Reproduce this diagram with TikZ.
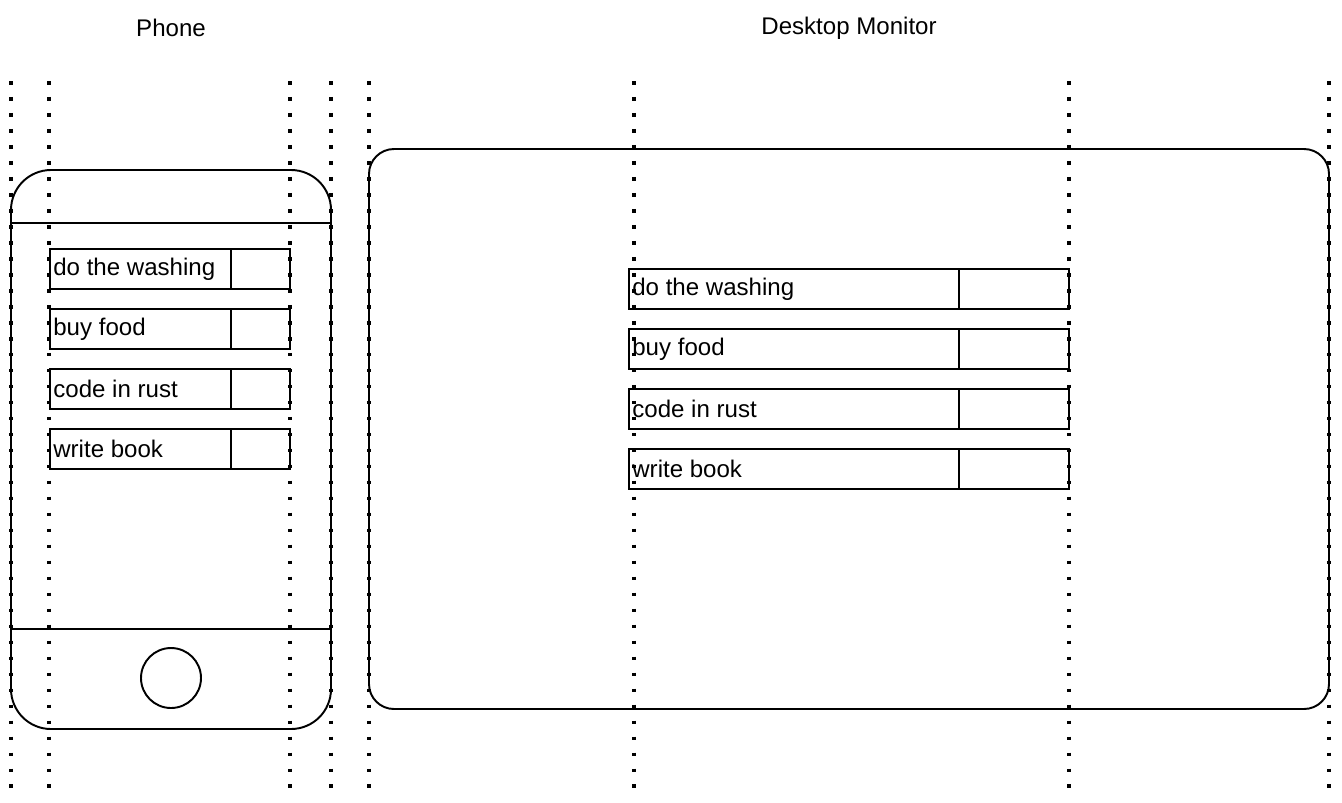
\documentclass[tikz,border=0pt]{standalone}
\usepackage{fontspec}
\setmainfont{Liberation Sans}
\usetikzlibrary{positioning}

\begin{document}
\begin{tikzpicture}[x=0.02cm,y=-0.02cm,
    outline/.style={line width=1.1pt},
    guide/.style={line width=2.1pt,dash pattern=on 2.1pt off 7pt},
    itembox/.style={draw,line width=1.1pt,rectangle,anchor=north west,
                    inner sep=0pt,outer sep=0pt,minimum height=0.8cm},
    itemtext/.style={anchor=west,inner sep=0.06cm,font=\fontsize{13.7}{16}\selectfont},
    title/.style={font=\fontsize{13.7}{16}\selectfont}]
  \useasboundingbox (0,0) rectangle (1342,802);
  % titles
  \node[title] (phone) at (171,28) {Phone};
  \node[title] (desktop) at (849,28) {Desktop Monitor};
  % phone body
  \draw[outline,rounded corners=0.8cm] (11,170) rectangle (331,729);
  \draw[outline] (11,223) -- (331,223);
  \draw[outline] (11,629) -- (331,629);
  \draw[outline] (171,678) circle (0.6cm);
  % monitor body
  \draw[outline,rounded corners=0.5cm] (369,149) rectangle (1329,709);
  % todo items
  \foreach \txt [count=\i] in {do the washing,buy food,code in rust,write book}{
    \node[itembox,minimum width=3.62cm] (ph\i) at (50,{249+60*(\i-1)}) {};
    \node[itembox,minimum width=1.18cm,right=0pt of ph\i] (phc\i) {};
    \node[itemtext] (pht\i) at (ph\i.west) {\txt};
    \node[itembox,minimum width=6.6cm] (dk\i) at (629,{269+60*(\i-1)}) {};
    \node[itembox,minimum width=2.2cm,right=0pt of dk\i] (dkc\i) {};
    \node[itemtext] (dkt\i) at (dk\i.west) {\txt};
  }
  % layout guides
  \foreach \gx in {11,49,290,331,369,634,1069,1329}
    \draw[guide] (\gx,81) -- (\gx,792);
\end{tikzpicture}
\end{document}
